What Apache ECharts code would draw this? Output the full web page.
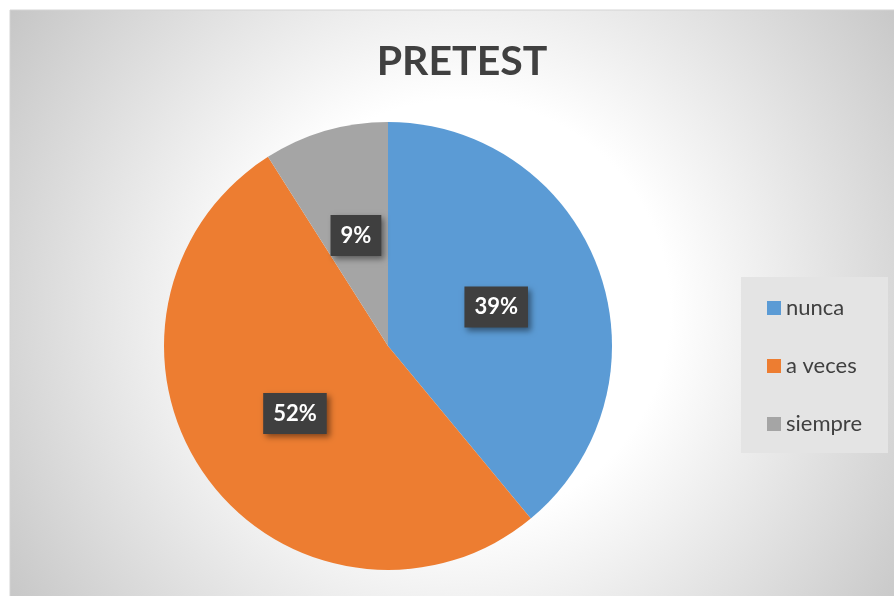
<!DOCTYPE html>
<html>
<head>
<meta charset="utf-8">
<script src="https://cdn.jsdelivr.net/npm/echarts@6/dist/echarts.min.js"></script>
<style>
html,body{margin:0;padding:0;background:#fff;}
#chart{width:894px;height:596px;}
</style>
</head>
<body>
<div id="chart"></div>
<script>
const titleText = 'PRETEST';
const categories = ['nunca', 'a veces', 'siempre'];
const values = [39, 52, 9];
const colors = ['#5b9bd5', '#ed7d31', '#a5a5a5'];

const chart = echarts.init(document.getElementById('chart'), null, {renderer: 'canvas'});
const FONT = 'Lato, "Open Sans", sans-serif';

const option = {
  animation: false,
  backgroundColor: '#ffffff',
  color: colors,
  graphic: [
    {
      type: 'rect',
      z: -10,
      silent: true,
      shape: {x: 10, y: 10, width: 900, height: 600},
      style: {
        fill: {
          type: 'radial', x: 0.5, y: 0.5, r: 0.92,
          colorStops: [
            {offset: 0, color: '#ffffff'},
            {offset: 0.38, color: '#ffffff'},
            {offset: 1, color: '#c4c4c4'}
          ]
        },
        stroke: '#d4d4d4',
        lineWidth: 1
      }
    }
  ],
  title: {
    text: titleText,
    left: 457,
    textAlign: 'center',
    top: 35,
    textStyle: {
      fontFamily: FONT,
      fontWeight: 'bold',
      fontSize: 41,
      lineHeight: 44,
      color: '#404040'
    }
  },
  legend: {
    orient: 'vertical',
    left: 741,
    top: 277,
    padding: [20, 26, 18, 26],
    itemGap: 36,
    itemWidth: 14,
    itemHeight: 14,
    icon: 'rect',
    backgroundColor: '#e4e4e4',
    data: categories,
    textStyle: {
      fontFamily: FONT,
      fontSize: 22,
      lineHeight: 22,
      color: '#404040'
    }
  },
  series: [
    {
      type: 'pie',
      center: [388, 346],
      radius: 224,
      startAngle: 90,
      clockwise: true,
      avoidLabelOverlap: false,
      emphasis: {disabled: true},
      itemStyle: {borderWidth: 0},
      label: {
        show: true,
        position: 'inside',
        formatter: p => p.value + '%',
        fontFamily: FONT,
        fontWeight: 'bold',
        fontSize: 22,
        lineHeight: 24,
        color: '#ffffff',
        backgroundColor: '#3f3f3f',
        padding: [9, 10, 8, 10],
        shadowColor: 'rgba(0,0,0,0.45)',
        shadowBlur: 6,
        shadowOffsetX: 3,
        shadowOffsetY: 3
      },
      labelLine: {show: false},
      data: categories.map((c, i) => ({name: c, value: values[i]}))
    }
  ]
};
chart.setOption(option);
</script>
</body>
</html>
